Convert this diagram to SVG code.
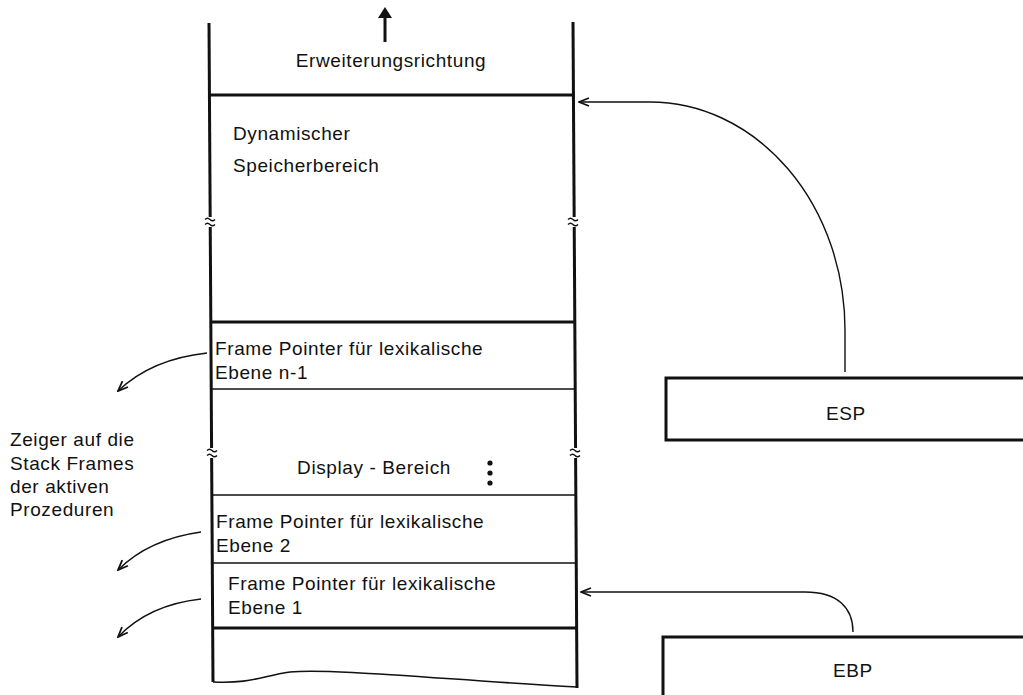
<svg xmlns="http://www.w3.org/2000/svg" width="1023" height="695" viewBox="0 0 1023 695">
<style>
text{font-family:"Liberation Sans",Arial,sans-serif;font-size:19px;letter-spacing:0.6px;fill:#111}
.c{text-anchor:middle}
.thick{stroke:#111;stroke-width:3;fill:none}
.thin{stroke:#111;stroke-width:1.6;fill:none}
.conn{stroke:#111;stroke-width:1.4;fill:none}
.brk{stroke:#111;stroke-width:1.4;fill:none}
</style>
<defs>
<marker id="tip" viewBox="0 0 12 10" refX="11" refY="5" markerWidth="12" markerHeight="10" markerUnits="userSpaceOnUse" orient="auto">
<path d="M1,1 L11,5 L1,9" fill="none" stroke="#111" stroke-width="1.8"/>
</marker>
</defs>
<rect width="1023" height="695" fill="#fff"/>

<g id="stack">
<line class="thick" x1="209" y1="23" x2="213" y2="682"/>
<line class="thick" x1="573" y1="22" x2="577" y2="688"/>
<line class="thick" x1="209" y1="95" x2="574" y2="95"/>
<line class="thick" x1="211" y1="322" x2="575" y2="322"/>
<line class="thin" x1="211" y1="389" x2="575" y2="389"/>
<line class="thin" x1="212" y1="495" x2="576" y2="495"/>
<line class="thin" x1="212" y1="563" x2="576" y2="563"/>
<line class="thick" x1="212" y1="628" x2="576" y2="628"/>
<path class="thin" d="M213,682 C250,684 262,676 290,672 C330,668 450,680 577,687"/>
<rect x="204" y="217" width="12" height="10" fill="#fff"/>
<rect x="567" y="217" width="12" height="10" fill="#fff"/>
<rect x="206" y="448" width="12" height="10" fill="#fff"/>
<rect x="569" y="448" width="12" height="10" fill="#fff"/>
<path class="brk" d="M205,219.5 q2.5,-2.5 5,0 t5,0 M205,224.5 q2.5,-2.5 5,0 t5,0"/>
<path class="brk" d="M568,219.5 q2.5,-2.5 5,0 t5,0 M568,224.5 q2.5,-2.5 5,0 t5,0"/>
<path class="brk" d="M207,450.5 q2.5,-2.5 5,0 t5,0 M207,455.5 q2.5,-2.5 5,0 t5,0"/>
<path class="brk" d="M570,450.5 q2.5,-2.5 5,0 t5,0 M570,455.5 q2.5,-2.5 5,0 t5,0"/>
</g>

<g id="direction">
<line x1="385" y1="42" x2="385" y2="15" stroke="#111" stroke-width="3"/>
<polygon points="385,7 378,18 392,18" fill="#111"/>
<text x="391" y="67" class="c">Erweiterungsrichtung</text>
</g>

<g id="dynamic">
<text x="233" y="140">Dynamischer</text>
<text x="233" y="172">Speicherbereich</text>
</g>

<g id="fp-n1">
<text x="215" y="355">Frame Pointer für lexikalische</text>
<text x="215" y="379">Ebene n-1</text>
</g>

<g id="display">
<text x="374" y="474" class="c">Display - Bereich</text>
<circle cx="490" cy="463" r="2.6" fill="#111"/>
<circle cx="490" cy="473" r="2.6" fill="#111"/>
<circle cx="490" cy="483" r="2.6" fill="#111"/>
</g>

<g id="fp-2">
<text x="216" y="528">Frame Pointer für lexikalische</text>
<text x="216" y="552">Ebene 2</text>
</g>

<g id="fp-1">
<text x="228" y="590">Frame Pointer für lexikalische</text>
<text x="228" y="614">Ebene 1</text>
</g>

<g id="zeiger">
<text x="10" y="446">Zeiger auf die</text>
<text x="10" y="470">Stack Frames</text>
<text x="10" y="493">der aktiven</text>
<text x="10" y="516">Prozeduren</text>
</g>

<g id="esp">
<rect x="666" y="378" width="370" height="62" class="thick"/>
<text x="846" y="420" class="c">ESP</text>
</g>

<g id="ebp">
<rect x="663" y="637" width="370" height="70" class="thick"/>
<text x="853" y="677" class="c">EBP</text>
</g>

<g id="connectors">
<path class="conn" d="M845,372 L845,330 A195,228 0 0 0 650,102 L579,102" marker-end="url(#tip)"/>
<path class="conn" d="M853,632 C853,608 838,592 805,592 L581,592" marker-end="url(#tip)"/>
<path class="conn" d="M207,353 C170,357 140,370 118,391" marker-end="url(#tip)"/>
<path class="conn" d="M201,532 C165,537 138,550 118,570" marker-end="url(#tip)"/>
<path class="conn" d="M201,599 C165,603 138,616 118,637" marker-end="url(#tip)"/>
</g>
</svg>
